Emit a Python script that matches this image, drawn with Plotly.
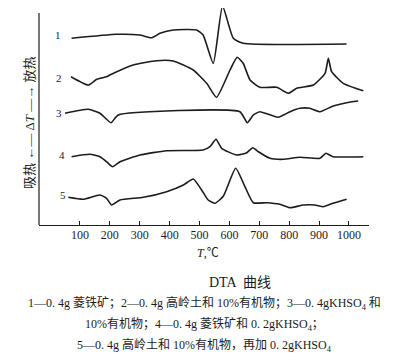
import plotly.graph_objects as go

# Temperature (°C) and ΔT (arbitrary offset units) for each DTA curve
t1 = [72, 223, 300, 340, 368, 412, 490, 512, 546, 577, 613, 646, 992]
d1 = [186.7, 190.7, 190, 187.3, 191.7, 195, 195, 190, 161.7, 219, 186.7, 181.7, 181]

t2 = [70, 128, 156, 189, 200, 278, 357, 412, 479, 524, 557, 602, 626, 646, 669,
      702, 758, 797, 825, 881, 920, 931, 942, 981, 1048]
d2 = [148.3, 140, 145.7, 148.3, 150, 160, 164.3, 164, 155, 141.7, 127.7, 155, 167.7,
      161.7, 145, 137.7, 137.7, 131.7, 136.7, 140, 151.7, 166.7, 153.3, 141.7, 134.3]

t3 = [50, 128, 167, 204, 228, 635, 660, 680, 702, 763, 803, 836, 869, 903, 947, 992, 1031]
d3 = [111.7, 115.7, 111.7, 102.3, 110, 113.3, 102.3, 110, 113.3, 107.7, 113.3, 116.7,
      116.7, 113.3, 119, 122.3, 124]

t4 = [72, 133, 167, 189, 209, 234, 301, 390, 512, 535, 555, 574, 624, 658, 678, 697,
      736, 780, 836, 903, 923, 947, 1048]
d4 = [68.3, 70.7, 68.3, 63.3, 58.3, 63.3, 70, 74.3, 75, 78.3, 85.7, 76.7, 70, 72.3,
      77.3, 73.3, 66.7, 65.7, 67.7, 66.7, 71.7, 68.3, 68.3]

t5 = [61, 111, 167, 189, 206, 234, 312, 390, 446, 479, 507, 529, 552, 580, 621, 652,
      680, 724, 769, 803, 847, 886, 914, 947, 992]
d5 = [27.7, 25.7, 30, 26.7, 20, 25, 27.7, 33.3, 40, 46, 35, 25, 21.7, 29, 56.7, 38.3,
      22.3, 22.3, 20.7, 17.3, 20, 20, 18.3, 21.7, 25.7]

curve_names = ["1", "2", "3", "4", "5"]
label_t = [26, 30, 31, 39, 43]
label_d = [190, 147.3, 111.7, 70, 30]

x_ticks = [100, 200, 300, 400, 500, 600, 700, 800, 900, 1000]

series = [(t1, d1), (t2, d2), (t3, d3), (t4, d4), (t5, d5)]

SERIF = "Liberation Serif, Noto Sans CJK SC, serif"
CJK = "Liberation Serif, Noto Sans CJK SC"
INK = "#1c1c1c"

fig = go.Figure()
for (tx, dy), nm in zip(series, curve_names):
    fig.add_trace(go.Scatter(x=tx, y=dy, mode="lines", name=nm,
                             line=dict(color=INK, width=1.6, shape="spline", smoothing=0.5),
                             showlegend=False, hoverinfo="skip"))

for nm, lx, ly in zip(curve_names, label_t, label_d):
    fig.add_annotation(x=lx, y=ly, xref="x", yref="y", text=nm, showarrow=False,
                       font=dict(family=SERIF, size=11, color=INK),
                       xanchor="center", yanchor="middle")

# left axis line (stops below the top of the drawing area)
fig.add_shape(type="line", xref="paper", yref="y", x0=0, x1=0, y0=0, y1=212,
              line=dict(color=INK, width=1.2))

fig.update_layout(
    width=409, height=359,
    margin=dict(l=31, r=48, t=0, b=142),
    paper_bgcolor="white", plot_bgcolor="white",
    xaxis=dict(range=[-37, 1067], tickvals=x_ticks, ticks="inside", ticklen=4,
               tickcolor=INK, showline=True, linecolor=INK, linewidth=1.2,
               showgrid=False, zeroline=False, ticklabelstandoff=-2,
               tickfont=dict(family=SERIF, size=12, color=INK)),
    yaxis=dict(range=[0, 217], showticklabels=False, ticks="", showline=False,
               showgrid=False, zeroline=False),
)


def note(x, y, text, size, family=CJK, angle=0):
    fig.add_annotation(x=x, y=y, xref="paper", yref="paper", text=text,
                       textangle=angle, showarrow=False,
                       xanchor="center", yanchor="middle",
                       font=dict(family=family, size=size, color=INK))


note(0.512, -0.129, "<i>T</i>,℃", 12, SERIF)
note(-0.030, 0.470, "吸热 ←— Δ<i>T</i> —→ 放热", 13, angle=-90)
note(0.609, -0.267, "DTA  曲线", 14)
note(0.5, -0.364, "1—0. 4g 菱铁矿；2—0. 4g 高岭土和 10%有机物；3—0. 4gKHSO<sub>4</sub> 和", 12)
note(0.5, -0.461, "10%有机物；4—0. 4g 菱铁矿和 0. 2gKHSO<sub>4</sub>；", 12)
note(0.5, -0.553, "5—0. 4g 高岭土和 10%有机物，再加 0. 2gKHSO<sub>4</sub>", 12)

fig.write_html("out.html")
